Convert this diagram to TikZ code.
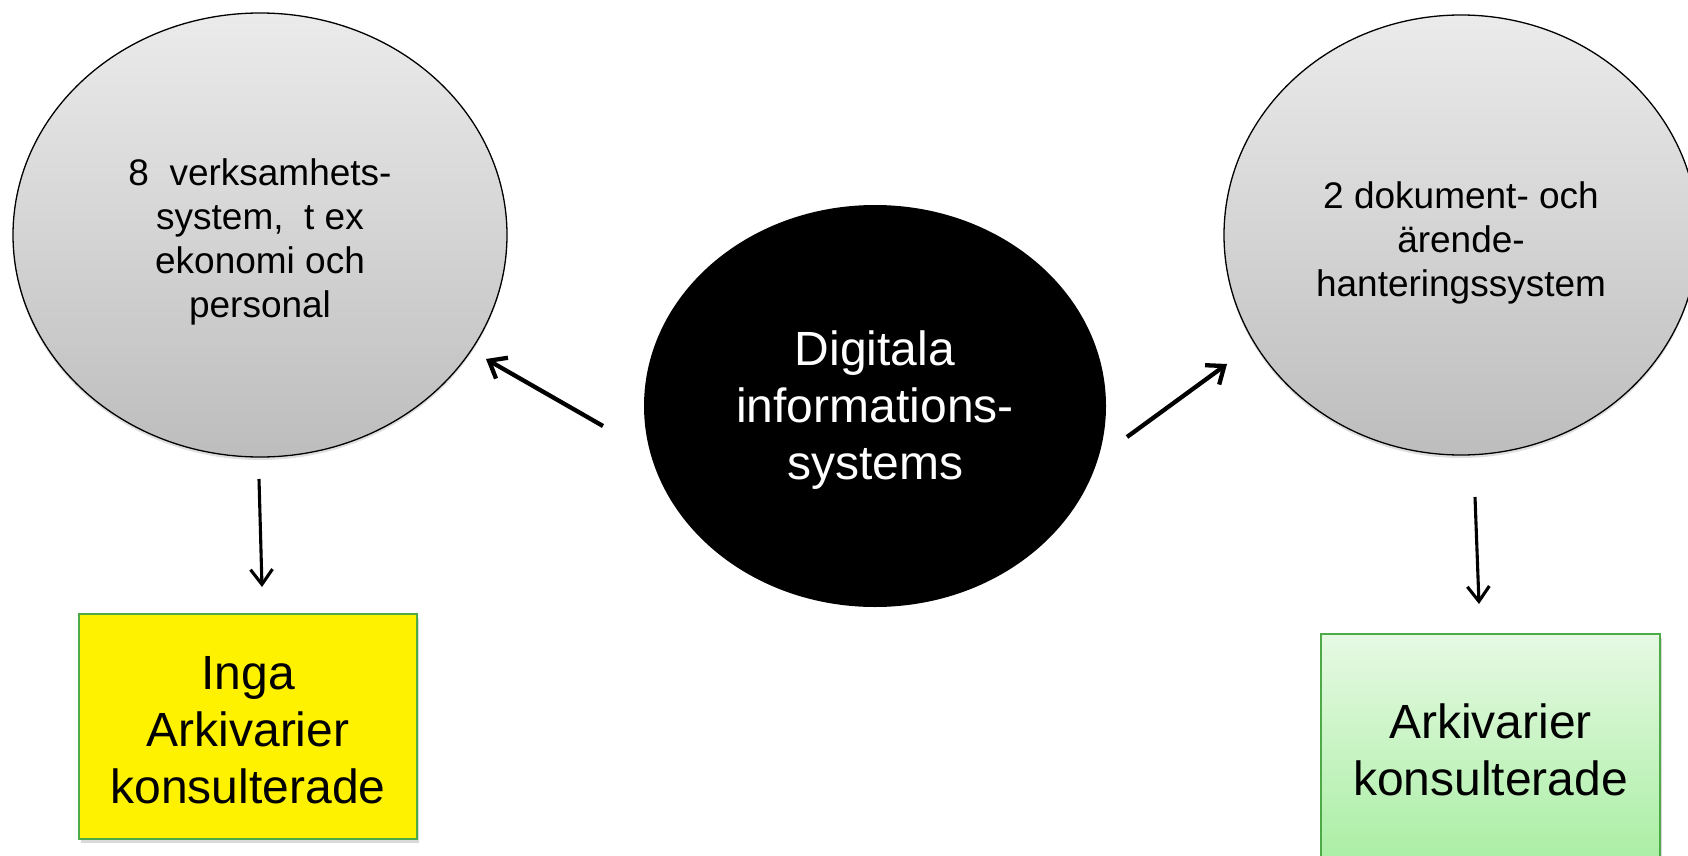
\documentclass[tikz,border=0pt]{standalone}
\usepackage{fontspec}
\setmainfont{Liberation Sans}
\usetikzlibrary{arrows.meta,shapes.geometric,shadows}
\definecolor{grtop}{HTML}{EBEBEB}
\definecolor{grbot}{HTML}{BDBDBD}
\definecolor{gbord}{HTML}{4DAA47}
\definecolor{gtop}{HTML}{E6F9E3}
\definecolor{gbot}{HTML}{A9EEA3}
\newcommand\lowtext[2]{\raisebox{#1}[\height][\depth]{\begin{tabular}{@{}c@{}}#2\end{tabular}}}
\begin{document}
\begin{tikzpicture}[x=1pt,y=-1pt,
  graycirc/.style={ellipse, draw=black, line width=1.3pt, top color=grtop, bottom color=grbot,
    inner sep=0pt, font=\fontsize{37}{44}\selectfont,
    drop shadow={shadow xshift=0pt, shadow yshift=-3pt, opacity=0.25}},
  blackcirc/.style={ellipse, fill=black, text=white, inner sep=0pt,
    font=\fontsize{48}{57}\selectfont},
  resbox/.style={rectangle, draw=gbord, line width=1.6pt, inner sep=0pt,
    font=\fontsize{48}{57}\selectfont,
    drop shadow={shadow xshift=2pt, shadow yshift=-4pt, opacity=0.3}},
  arrbig/.style={-{Straight Barb[length=15pt,width=24pt]}, line width=4.3pt},
  arrsmall/.style={-{Straight Barb[length=15pt,width=22pt]}, line width=3.1pt}
]
\useasboundingbox (0,0) rectangle (1688,856);

\node[graycirc, minimum width=494pt, minimum height=444pt] (L) at (260,235)
  {\lowtext{-7.5pt}{8~~verksamhets-\\system,~~t ex\\ekonomi och\\personal}};
\node[graycirc, minimum width=474pt, minimum height=440pt] (R) at (1461,235)
  {\lowtext{-8.5pt}{2 dokument- och\\ärende-\\hanteringssystem}};
\node[blackcirc, minimum width=462pt, minimum height=402pt] (C) at (875,406)
  {\lowtext{-5pt}{Digitala\\informations-\\systems}};

\node[resbox, fill=yellow, minimum width=338pt, minimum height=225pt] (Y) at (248,726.5)
  {\lowtext{-9pt}{Inga\\Arkivarier\\konsulterade}};
\node[resbox, top color=gtop, bottom color=gbot, minimum width=339pt, minimum height=232pt] (G) at (1490.5,750)
  {\lowtext{-6pt}{Arkivarier\\konsulterade}};

\coordinate (cl1) at (603,426);
\coordinate (cl2) at (486,359);
\coordinate (cr1) at (1127,437);
\coordinate (cr2) at (1227,364);
\coordinate (ly1) at (259,479);
\coordinate (ly2) at (262,587);
\coordinate (rg1) at (1475,497);
\coordinate (rg2) at (1479,604);

\draw[arrbig] (cl1) -- (cl2);
\draw[arrbig] (cr1) -- (cr2);
\draw[arrsmall] (ly1) -- (ly2);
\draw[arrsmall] (rg1) -- (rg2);
\end{tikzpicture}
\end{document}
